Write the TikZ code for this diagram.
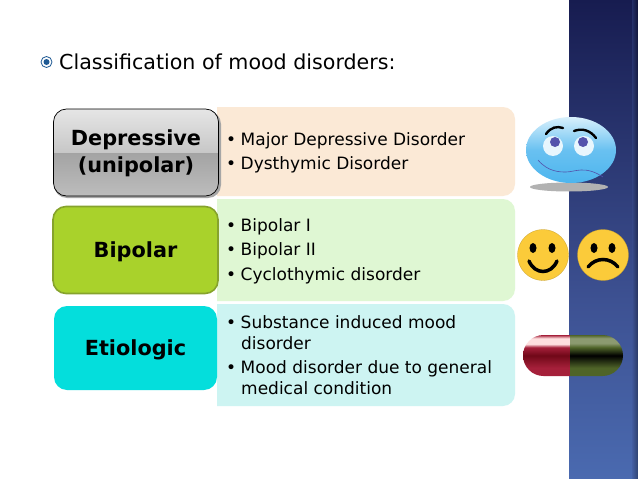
\documentclass[tikz,border=0pt]{standalone}
\usepackage{fontspec}
\setmainfont{DejaVu Sans}
\usepackage{xcolor}
\usetikzlibrary{positioning}
\definecolor{navytop}{HTML}{171C50}
\definecolor{navymid}{HTML}{3D5192}
\definecolor{navylow}{HTML}{4A6AB0}
\definecolor{peachpanel}{HTML}{FBE9D6}
\definecolor{greenpanel}{HTML}{DFF7D3}
\definecolor{cyanpanel}{HTML}{CDF4F2}
\definecolor{limebox}{HTML}{A9D22B}
\definecolor{limeedge}{HTML}{86A32C}
\definecolor{cyanbox}{HTML}{04DEDC}
\definecolor{smiley}{HTML}{FBCB3A}
\definecolor{bluedot}{HTML}{1F5A94}
\definecolor{ballblue}{HTML}{4DB5EE}
\definecolor{ballpale}{HTML}{D8F0FC}
\definecolor{pillred}{HTML}{A5203A}
\definecolor{pilldark}{HTML}{700818}
\definecolor{pillgreen}{HTML}{4F6428}
\definecolor{pillpale}{HTML}{8C9A70}
\pgfdeclareverticalshading{glossgray}{100bp}{color(0bp)=(black!26); color(25bp)=(black!26); color(50bp)=(black!36); color(50bp)=(black!22); color(75bp)=(black!10); color(100bp)=(black!10)}
\pgfdeclareverticalshading{glossred}{100bp}{color(0bp)=(pillred); color(25bp)=(pillred); color(35bp)=(pillred); color(50bp)=(pilldark); color(60bp)=(pillred); color(64bp)=(red!12!white); color(71bp)=(red!12!white); color(75bp)=(pillred); color(100bp)=(pillred)}
\pgfdeclareverticalshading{glossgreen}{100bp}{color(0bp)=(pillgreen); color(25bp)=(pillgreen); color(35bp)=(pillgreen); color(50bp)=(black); color(60bp)=(pillgreen); color(65bp)=(pillpale); color(71bp)=(pillpale); color(75bp)=(pillgreen); color(100bp)=(pillgreen)}
\newcommand{\lowertext}[2][2pt]{\raisebox{-#1}[\height][\depth]{#2}}
\tikzset{
  headbox/.style={rounded corners=13pt, minimum width=165pt, align=center, inner sep=0pt, font=\fontsize{20.8}{26.5}\selectfont\bfseries},
  itemtext/.style={align=left, font=\fontsize{17}{24.5}\selectfont, anchor=west, inner sep=0pt},
  face/.style={circle, fill=smiley, draw=smiley!80!black, line width=0.3pt, minimum size=51pt, inner sep=0pt}
}
\begin{document}
\begin{tikzpicture}[x=1pt, y=-1pt]
\useasboundingbox (0,0) rectangle (638,479);
\fill[white] (0,0) rectangle (638,479);
% sidebar
\shade[top color=navytop, bottom color=navymid] (569,0) rectangle (638,300);
\shade[top color=navymid, bottom color=navylow] (569,300) rectangle (638,479);
\shade[left color=navymid, right color=black, opacity=0.35] (632,0) rectangle (638,479);
% title
\node[circle, draw=bluedot, line width=0.8pt, minimum size=11pt, inner sep=0pt, fill=white] (bullet) at (46.5,62) {};
\fill[bluedot] (bullet.center) circle (3pt);
\node[anchor=west, inner sep=0pt, font=\fontsize{20.6}{24}\selectfont] (title) at (59,62) {Classification of mood disorders:};
% right panels
\fill[peachpanel, rounded corners=12pt] (200,107) rectangle (515,196);
\fill[greenpanel, rounded corners=12pt] (200,199) rectangle (515,301);
\fill[cyanpanel, rounded corners=12pt] (200,304) rectangle (515,406);
\fill[white] (190,100) rectangle (217,420);
\fill[peachpanel] (217,107) rectangle (240,196);
\fill[greenpanel] (217,199) rectangle (240,301);
\fill[cyanpanel] (217,304) rectangle (240,406);
% left boxes
\fill[black!35, rounded corners=13pt] (54,111) rectangle (221,198);
\node[headbox, draw=black, line width=0.7pt, minimum height=87pt, shade, shading=glossgray] (depressive) at (136,152.5) {\lowertext[1pt]{Depressive}\\\lowertext[1pt]{(unipolar)}};
\node[headbox, draw=limeedge, line width=1.6pt, fill=limebox, minimum height=87pt] (bipolar) at (135.5,250) {\lowertext{Bipolar}};
\node[headbox, fill=cyanbox, minimum height=84pt, minimum width=163pt] (etiologic) at (135.5,348) {\lowertext{Etiologic}};
% lists
\node[itemtext] (majorlist) at (226,153) {•\hspace{4.5pt}Major Depressive Disorder\\•\hspace{4.5pt}Dysthymic Disorder};
\node[itemtext] (bipolarlist) at (226,251) {•\hspace{4.5pt}Bipolar I\\•\hspace{4.5pt}Bipolar II\\•\hspace{4.5pt}Cyclothymic disorder};
\node[itemtext, font=\fontsize{17}{20.5}\selectfont] (causelist) at (226,355) {•\hspace{4.5pt}Substance induced mood\\\hspace{15pt}disorder\\[4pt]•\hspace{4.5pt}Mood disorder due to general\\\hspace{15pt}medical condition};
% sad blue face
\fill[black!30] (569,187) ellipse (39pt and 4.5pt);
\shade[top color=ballpale, bottom color=ballblue, middle color=ballblue!80!ballpale] (571,150) ellipse (45pt and 33pt);
\fill[ballpale!60!white] (553,146) circle (10pt);
\fill[ballpale!60!white] (584,146) circle (10pt);
\fill[blue!35!gray] (555,142) circle (5pt);
\fill[blue!35!gray] (583,142) circle (5pt);
\draw[line width=2.4pt, line cap=round] (546,134) .. controls (551,127) and (557,126) .. (563,128);
\draw[line width=2.4pt, line cap=round] (596,138) .. controls (590,130) and (582,128) .. (574,131);
\draw[blue!35!gray, line width=0.6pt] (538,160) .. controls (548,172) and (560,172) .. (566,172) .. controls (575,172) and (585,165) .. (603,177);
% smileys
\node[face] (happy) at (543,255) {};
\node[face] (sad) at (603,255) {};
\fill (533,248) ellipse (3.5pt and 5pt);
\fill (552,248) ellipse (3.5pt and 5pt);
\fill (594,248) ellipse (3.5pt and 5pt);
\fill (612,248) ellipse (3.5pt and 5pt);
\draw[line width=3.5pt, line cap=round] (529,261) .. controls (535,275) and (551,275) .. (557,261);
\draw[line width=3.5pt, line cap=round] (588,267) .. controls (596,257) and (610,257) .. (618,267);
% pill
\begin{scope}
\clip (570,335) -- (543.5,335) arc (90:270:20.5pt) -- (570,376) -- cycle;
\shade[shading=glossred] (523,335) rectangle (570,376);
\end{scope}
\begin{scope}
\clip (570,335) -- (602.5,335) arc (90:-90:20.5pt) -- (570,376) -- cycle;
\shade[shading=glossgreen] (570,335) rectangle (623,376);
\end{scope}
\end{tikzpicture}
\end{document}
